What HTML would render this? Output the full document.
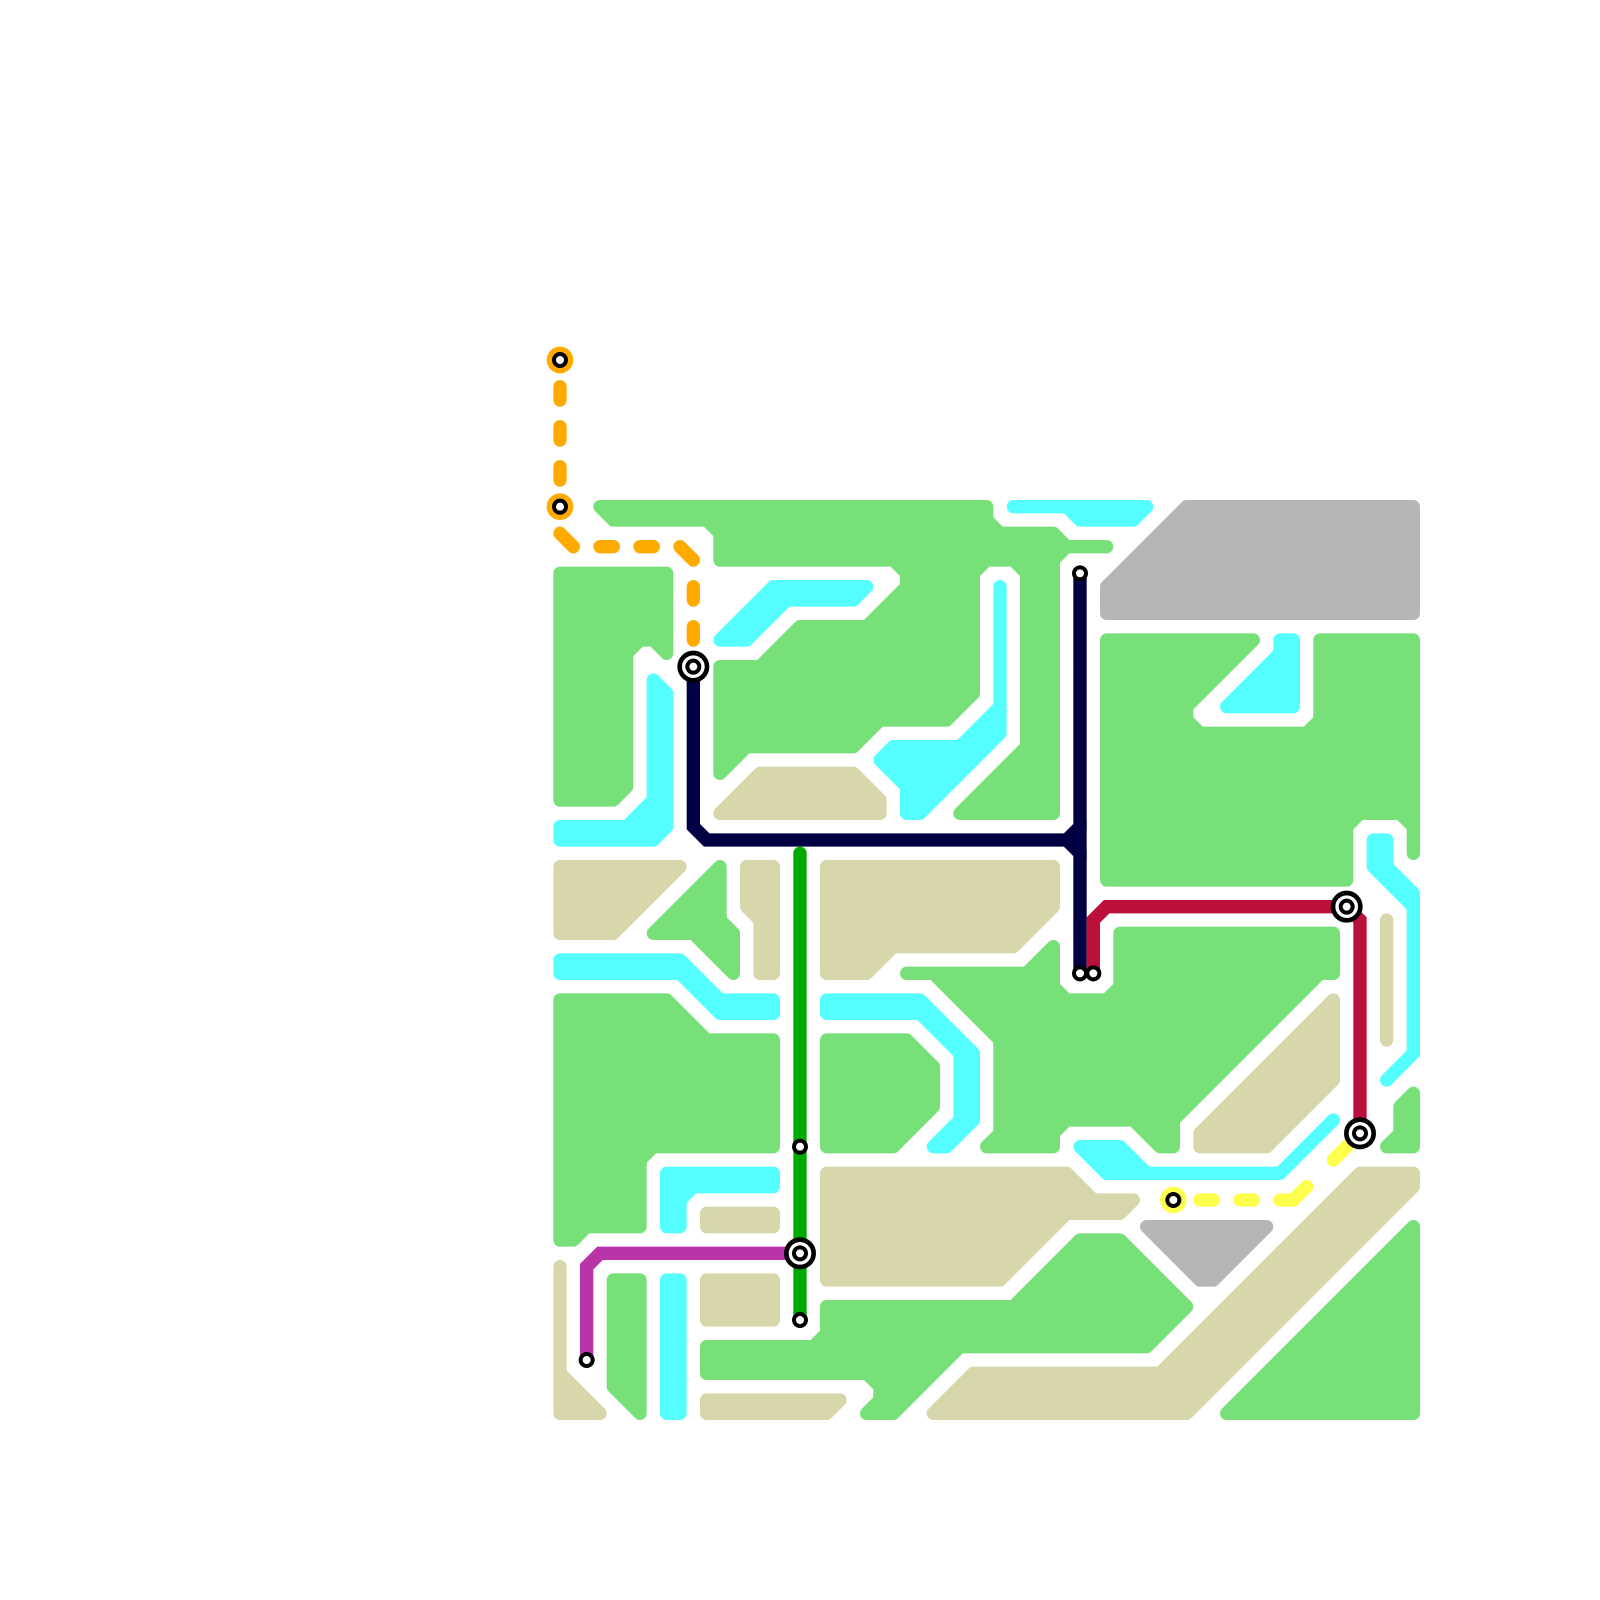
<!DOCTYPE html>
<html lang="en">
<head>
<meta charset="utf-8">
<title>Diagram</title>
<style>
html,body{margin:0;padding:0;background:#fff;}
svg{display:block;width:1600px;height:1600px;}
.g{fill:#78e078;stroke:#78e078;}
.c{fill:#55ffff;stroke:#55ffff;}
.t{fill:#d8d6ab;stroke:#d8d6ab;}
.y{fill:#b6b6b6;stroke:#b6b6b6;}
.s polygon,.s polyline{stroke-width:1;stroke-linejoin:round;}
.l polyline,.l line{fill:none;stroke-width:1;stroke-linecap:round;stroke-linejoin:miter;}
</style>
</head>
<body>
<svg xmlns="http://www.w3.org/2000/svg" viewBox="0 0 120 120" width="1600" height="1600">
<rect width="120" height="120" fill="#ffffff"/>
<g class="s">
<polygon class="g" points="45,38 46,39 53,39 54,40 54,42 67,42 68,43 68,44 65,47 60,47 57,50 54,50 54,58 56,56 64,56 66,54 71,54 73,52 73,43 74,42 76,42 77,43 77,56 72,61 79,61 79,42 80,41 83,41 80,41 79,40 75,40 74,39 74,38"/>
<polygon class="c" points="58,44 65,44 64,45 59,45 56,48 54,48"/>
<polygon class="c" points="75,44 75,55 69,61 68,61 68,59 66,57 67,56 72,56 75,53"/>
<polygon class="t" points="57,58 64,58 66,60 66,61 54,61"/>
<polygon class="g" points="42,43 50,43 50,49 49,48 48,48 47,49 47,59 46,60 42,60"/>
<polygon class="c" points="49,51 50,52 50,62 49,63 42,63 42,62 47,62 49,60"/>
<polygon class="t" points="42,65 51,65 46,70 42,70"/>
<polygon class="g" points="54,65 54,69 55,70 55,73 52,70 49,70"/>
<polygon class="t" points="56,65 58,65 58,73 57,73 57,69 56,68"/>
<polygon class="c" points="42,72 51,72 54,75 58,75 58,76 54,76 51,73 42,73"/>
<polygon class="g" points="42,75 50,75 53,78 58,78 58,86 49,86 48,87 48,92 44,92 43,93 42,93"/>
<polygon class="c" points="50,88 58,88 58,89 52,89 51,90 51,92 50,92"/>
<polygon class="t" points="53,91 58,91 58,92 53,92"/>
<polygon class="t" points="53,96 58,96 58,99 53,99"/>
<polygon class="c" points="50,96 51,96 51,106 50,106"/>
<polygon class="g" points="46,96 48,96 48,106 46,104"/>
<polygon class="t" points="42,95 42,106 45,106 42,103"/>
<polygon class="g" points="53,101 61,101 62,100 62,98 76,98 81,93 84,93 89,98 86,101 72,101 67,106 65,106 66,105 66,104 65,103 53,103"/>
<polygon class="t" points="53,105 63,105 62,106 53,106"/>
<polygon class="t" points="62,65 79,65 79,68 76,71 67,71 65,73 62,73"/>
<polygon class="c" points="62,75 69,75 73,79 73,84 71,86 70,86 72,84 72,79 69,76 62,76"/>
<polygon class="g" points="62,78 68,78 70,80 70,83 67,86 62,86"/>
<polygon class="t" points="62,88 80,88 82,90 85,90 84,91 80,91 75,96 62,96"/>
<polygon class="y" points="86,92 95,92 91,96 90,96"/>
<polygon class="t" points="102,88 106,88 106,89 89,106 70,106 73,103 87,103"/>
<polygon class="g" points="106,92 106,106 92,106"/>
<polygon class="g" points="84,70 100,70 100,73 99,73 88,84 88,86 87,86 85,84 80,84 79,85 79,86 74,86 75,85 75,78 70,73 68,73 77,73 79,71 79,74 80,75 83,75 84,74"/>
<polygon class="t" points="100,75 100,81 95,86 90,86 90,85"/>
<polygon class="c" points="81,86 84,86 86,88 96,88 100,84 96,88 83,88"/>
<polygon class="t" points="104,69 104,78"/>
<polygon class="c" points="103,63 104,63 104,65 106,67 106,79 104,81 106,79 106,68 103,65"/>
<polygon class="g" points="106,82 106,86 104,86 105,85 105,83"/>
<polygon class="g" points="83,48 94,48 89,53 89,54 90,55 98,55 99,54 99,48 106,48 106,64 106,62 105,61 102,61 101,62 101,66 83,66"/>
<polygon class="c" points="96,48 97,48 97,53 92,53 96,49"/>
<polygon class="y" points="89,38 106,38 106,46 83,46 83,44"/>
<polygon class="c" points="76,38 86,38 85,39 81,39 80,38"/>
</g>
<g class="l">
<g stroke="#ffaa00">
<line x1="42" y1="29" x2="42" y2="30"/>
<line x1="42" y1="32" x2="42" y2="33"/>
<line x1="42" y1="35" x2="42" y2="36"/>
<line x1="42" y1="40" x2="43" y2="41"/>
<line x1="45" y1="41" x2="46" y2="41"/>
<line x1="48" y1="41" x2="49" y2="41"/>
<line x1="51" y1="41" x2="52" y2="42"/>
<line x1="52" y1="44" x2="52" y2="45"/>
<line x1="52" y1="47" x2="52" y2="48"/>
</g>
<g stroke="#ffff4d">
<line x1="90" y1="90" x2="91" y2="90"/>
<line x1="93" y1="90" x2="94" y2="90"/>
<polyline points="96,90 97,90 98,89"/>
<line x1="100" y1="87" x2="102" y2="85"/>
</g>
<polyline stroke="#000042" points="52,50 52,62 53,63 80,63 81,62 81,43"/>
<polyline stroke="#000042" points="80,63 81,64 81,73"/>
<polygon fill="#000042" points="79.5,63 81,61.5 81.5,61.5 81.5,64.5 81,64.5"/>
<polyline stroke="#bb1039" points="82,73 82,69 83,68 101,68 102,69 102,85"/>
<polyline stroke="#00aa00" points="60,64 60,99"/>
<polyline stroke="#b834a8" points="60,94 45,94 44,95 44,102"/>
</g>
<g>
<circle cx="42" cy="27" r="1" fill="#ffaa00"/>
<circle cx="42" cy="38" r="1" fill="#ffaa00"/>
<circle cx="88" cy="90" r="1" fill="#ffff4d"/>
</g>
<g fill="#ffffff" stroke="#000000" stroke-width="0.3">
<circle cx="42" cy="27" r="0.45"/>
<circle cx="42" cy="38" r="0.45"/>
<circle cx="88" cy="90" r="0.45"/>
<circle cx="81" cy="43" r="0.45"/>
<circle cx="81" cy="73" r="0.45"/>
<circle cx="82" cy="73" r="0.45"/>
<circle cx="60" cy="86" r="0.45"/>
<circle cx="60" cy="99" r="0.45"/>
<circle cx="44" cy="102" r="0.45"/>
<circle cx="52" cy="50" r="1.025" stroke-width="0.35"/>
<circle cx="52" cy="50" r="0.45"/>
<circle cx="101" cy="68" r="1.025" stroke-width="0.35"/>
<circle cx="101" cy="68" r="0.45"/>
<circle cx="102" cy="85" r="1.025" stroke-width="0.35"/>
<circle cx="102" cy="85" r="0.45"/>
<circle cx="60" cy="94" r="1.025" stroke-width="0.35"/>
<circle cx="60" cy="94" r="0.45"/>
</g>
</svg>
</body>
</html>
